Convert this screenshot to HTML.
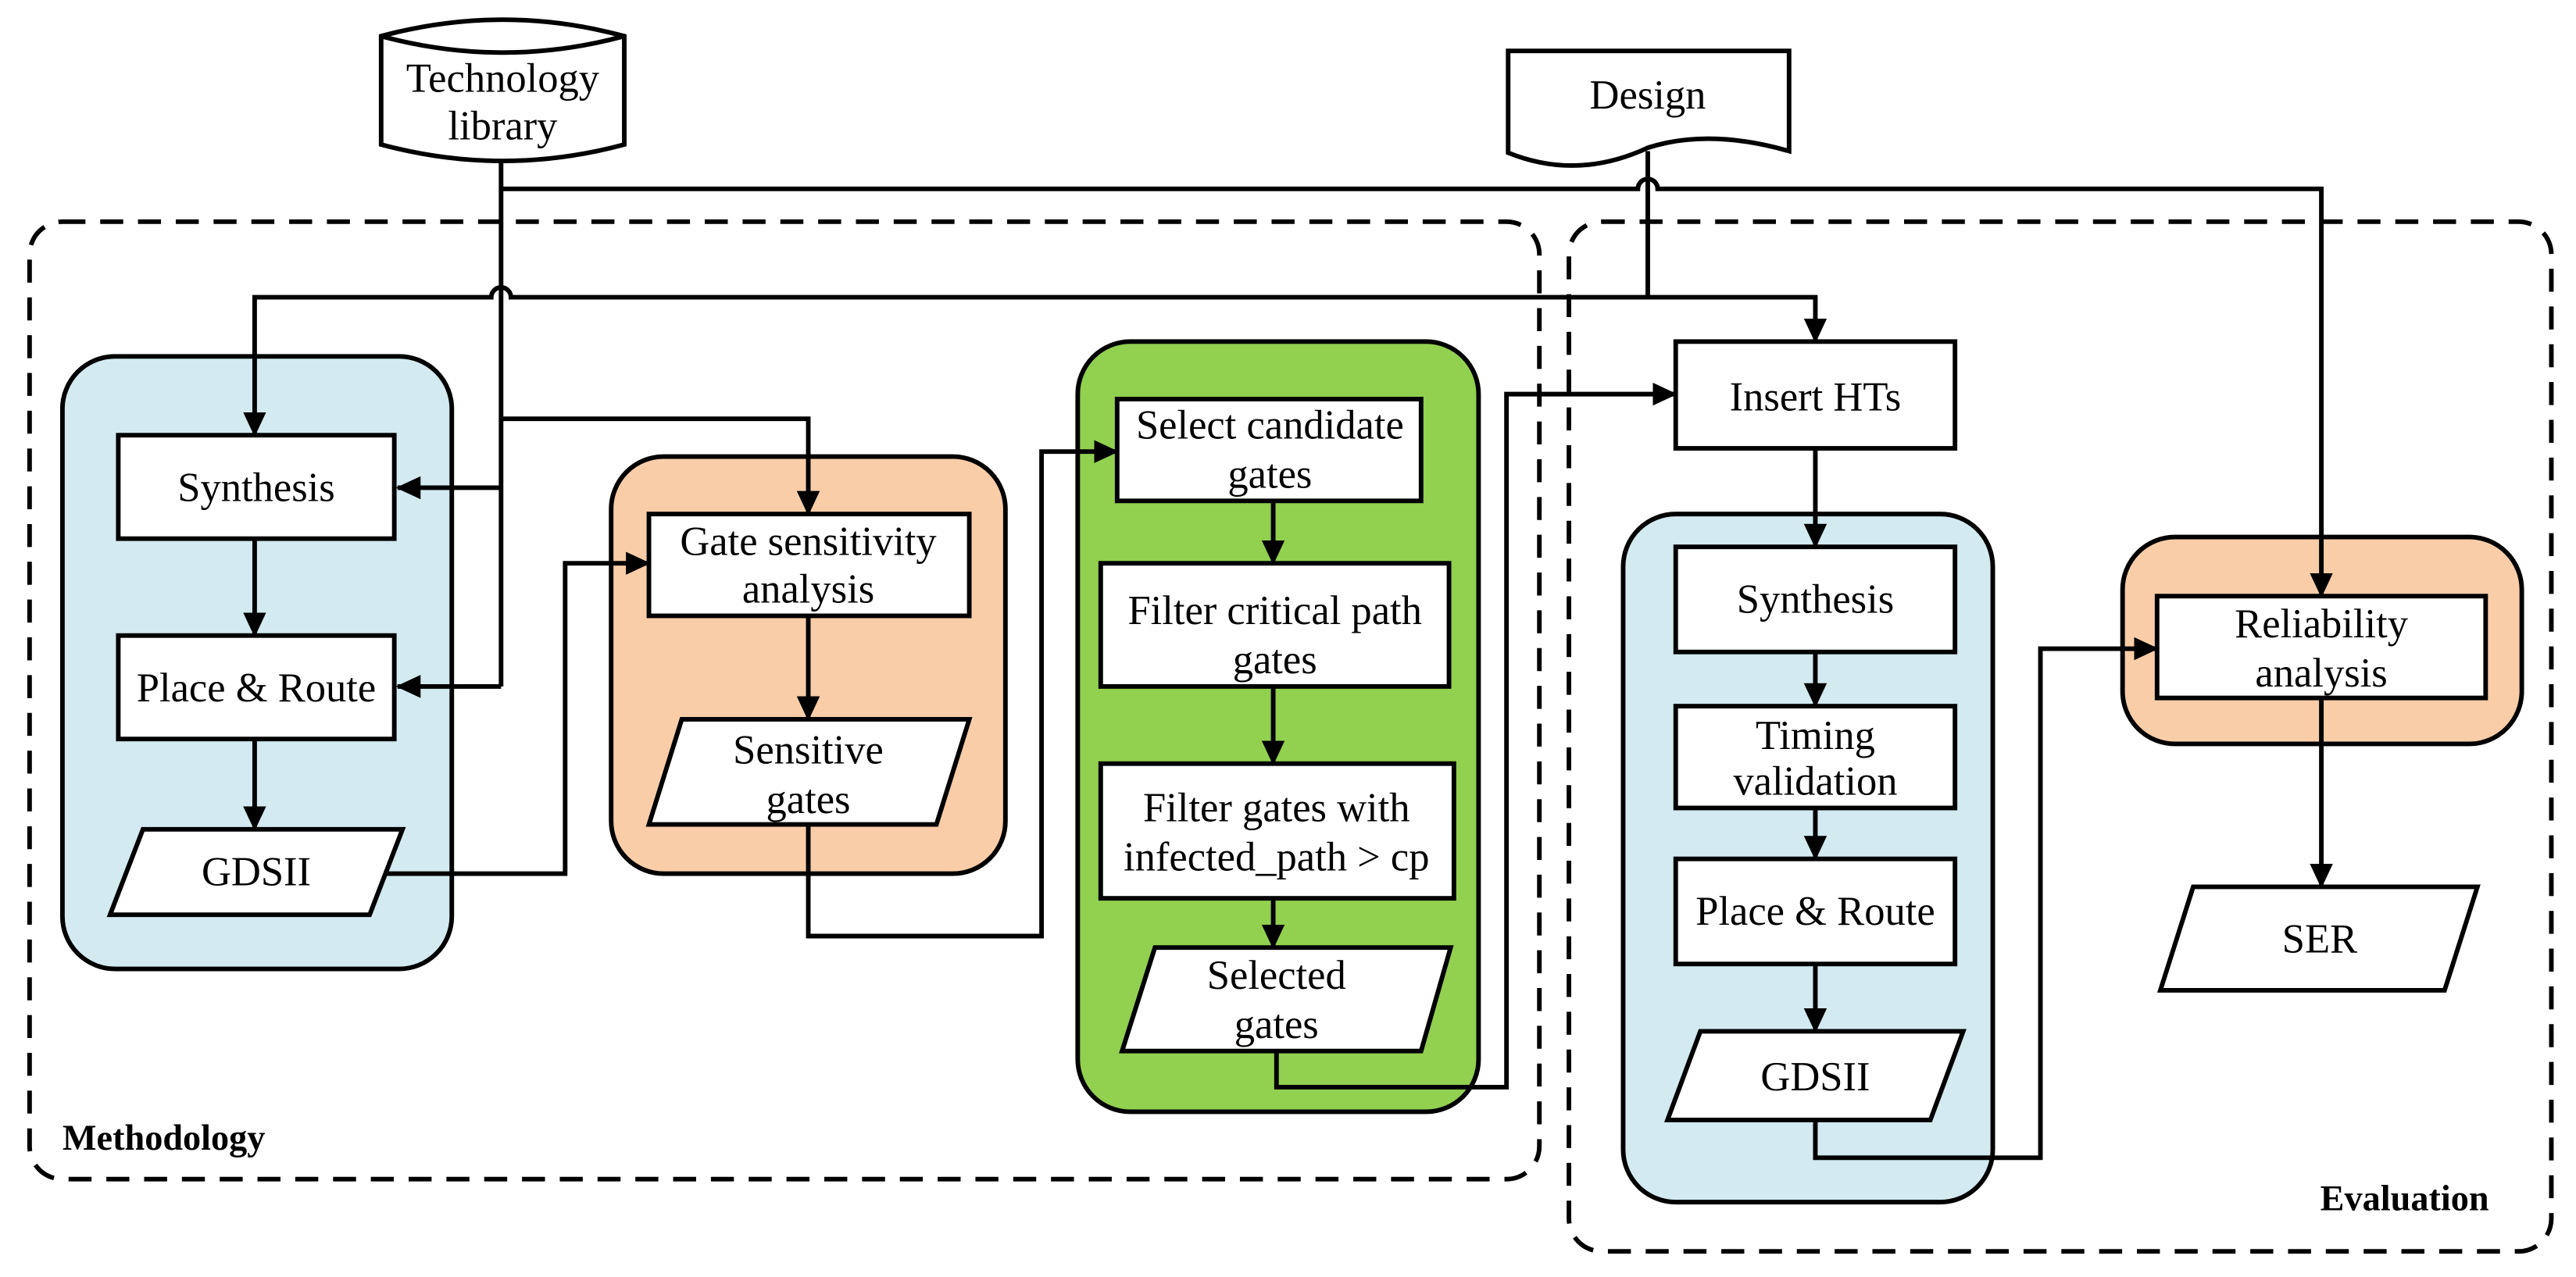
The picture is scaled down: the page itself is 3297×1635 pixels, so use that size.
<!DOCTYPE html>
<html><head><meta charset="utf-8"><style>
html,body{margin:0;padding:0;background:#fff}
svg{display:block}
text{font-family:"Liberation Serif",serif;font-size:25px;fill:#000;text-anchor:middle}
.b{font-weight:bold;font-size:22px}
</style></head><body>
<svg width="3297" height="1635" viewBox="0 0 1568 777.6" preserveAspectRatio="none" xmlns="http://www.w3.org/2000/svg">
<defs><marker id="h" markerWidth="15" markerHeight="14" refX="14" refY="7" orient="auto" markerUnits="userSpaceOnUse"><path d="M0,0 L15,7 L0,14 z"/></marker></defs>
<g fill="none" stroke="#000" stroke-width="2.8">
<rect x="18" y="135" width="919" height="583" rx="20" stroke-dasharray="14,9"/>
<rect x="955" y="135" width="598" height="627" rx="20" stroke-dasharray="14,9"/>
<rect x="38" y="217" width="237" height="373" rx="32" fill="#d2eaf0"/>
<rect x="372" y="278" width="240" height="254" rx="32" fill="#f8cda8"/>
<rect x="656" y="208" width="244" height="469" rx="32" fill="#92d050"/>
<rect x="988" y="313" width="225" height="419" rx="32" fill="#d2eaf0"/>
<rect x="1292" y="327" width="243" height="126" rx="32" fill="#f8cda8"/>
<rect x="72" y="265" width="168" height="63" fill="#fff"/>
<rect x="72" y="387" width="168" height="63" fill="#fff"/>
<path d="M87,505 L245,505 L225,557 L67,557 Z" fill="#fff"/>
<rect x="395" y="313" width="195" height="62" fill="#fff"/>
<path d="M415,438 L590,438 L570,502 L395,502 Z" fill="#fff"/>
<rect x="680" y="243" width="185" height="62" fill="#fff"/>
<rect x="670" y="343" width="212" height="75" fill="#fff"/>
<rect x="670" y="465" width="215" height="82" fill="#fff"/>
<path d="M703,577 L883,577 L865,640 L683,640 Z" fill="#fff"/>
<rect x="1020" y="208" width="170" height="65" fill="#fff"/>
<rect x="1020" y="333" width="170" height="64" fill="#fff"/>
<rect x="1020" y="430" width="170" height="62" fill="#fff"/>
<rect x="1020" y="523" width="170" height="64" fill="#fff"/>
<path d="M1035,628 L1195,628 L1175,682 L1015,682 Z" fill="#fff"/>
<rect x="1313" y="363" width="200" height="62" fill="#fff"/>
<path d="M1335,540 L1508,540 L1488,603 L1315,603 Z" fill="#fff"/>
<path d="M232,22 Q306,2 380,22 L380,88 Q306,108 232,88 Z" fill="#fff"/>
<path d="M232,22 Q306,42 380,22"/>
<path d="M918,31 L1089,31 L1089,92 Q1040,78 1003,90 Q960,110 918,93 Z" fill="#fff"/>
<path d="M305,98 L305,418"/>
<path d="M305,297 L242,297" marker-end="url(#h)"/>
<path d="M305,418 L242,418" marker-end="url(#h)"/>
<path d="M305,255 L492,255 L492,313" marker-end="url(#h)"/>
<path d="M305,115 L997,115 A6,6 0 0 1 1009,115 L1413,115 L1413,363" marker-end="url(#h)"/>
<path d="M1003,92 L1003,181 L311,181 A6,6 0 0 0 299,181 L155,181 L155,265" marker-end="url(#h)"/>
<path d="M1003,181 L1105,181 L1105,208" marker-end="url(#h)"/>
<path d="M155,328 L155,387" marker-end="url(#h)"/>
<path d="M155,450 L155,505" marker-end="url(#h)"/>
<path d="M235,532 L344,532 L344,343 L395,343" marker-end="url(#h)"/>
<path d="M492,375 L492,438" marker-end="url(#h)"/>
<path d="M492,502 L492,570 L634,570 L634,275 L680,275" marker-end="url(#h)"/>
<path d="M775,305 L775,343" marker-end="url(#h)"/>
<path d="M775,418 L775,465" marker-end="url(#h)"/>
<path d="M775,547 L775,577" marker-end="url(#h)"/>
<path d="M777,640 L777,662 L917,662 L917,240 L1020,240" marker-end="url(#h)"/>
<path d="M1105,273 L1105,333" marker-end="url(#h)"/>
<path d="M1105,397 L1105,430" marker-end="url(#h)"/>
<path d="M1105,492 L1105,523" marker-end="url(#h)"/>
<path d="M1105,587 L1105,628" marker-end="url(#h)"/>
<path d="M1105,682 L1105,705 L1242,705 L1242,395 L1313,395" marker-end="url(#h)"/>
<path d="M1413,425 L1413,540" marker-end="url(#h)"/>
</g>
<g>
<text x="306" y="56">Technology</text>
<text x="306" y="85">library</text>
<text x="1003" y="66">Design</text>
<text x="156" y="305">Synthesis</text>
<text x="156" y="427">Place &amp; Route</text>
<text x="156" y="539">GDSII</text>
<text x="492" y="338">Gate sensitivity</text>
<text x="492" y="367">analysis</text>
<text x="492" y="465">Sensitive</text>
<text x="492" y="495">gates</text>
<text x="773" y="267">Select candidate</text>
<text x="773" y="297">gates</text>
<text x="776" y="380">Filter critical path</text>
<text x="776" y="410">gates</text>
<text x="777" y="500">Filter gates with</text>
<text x="777" y="530">infected_path &gt; cp</text>
<text x="777" y="602">Selected</text>
<text x="777" y="632">gates</text>
<text x="1105" y="250">Insert HTs</text>
<text x="1105" y="373">Synthesis</text>
<text x="1105" y="456">Timing</text>
<text x="1105" y="484">validation</text>
<text x="1105" y="563">Place &amp; Route</text>
<text x="1105" y="664">GDSII</text>
<text x="1413" y="388">Reliability</text>
<text x="1413" y="418">analysis</text>
<text x="1412" y="580">SER</text>
<text class="b" x="38" y="700" style="text-anchor:start">Methodology</text>
<text class="b" x="1515" y="737" style="text-anchor:end">Evaluation</text>
</g>
</svg>
</body></html>
